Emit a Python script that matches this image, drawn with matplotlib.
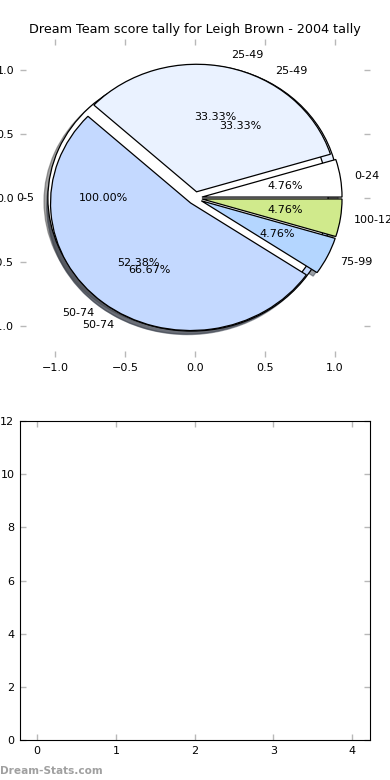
import matplotlib
matplotlib.use("Agg")
import matplotlib.pyplot as plt

# data
year_labels = ["0-24", "25-49", "50-74", "75-99", "100-124"]
year_counts = [1, 7, 11, 1, 1]
year_colors = ["#ffffff", "#eaf2ff", "#c4d9ff", "#b4d6ff", "#d0ea8c"]

sub_labels = ["25-49", "50-74"]
sub_counts = [1, 2]
sub_colors = ["#eaf2ff", "#c4d9ff"]

base_labels = ["0-5"]
base_counts = [1]
base_colors = ["#ffffff"]

pie_ticks = [-1.0, -0.5, 0.0, 0.5, 1.0]
bar_xticks = [0, 1, 2, 3, 4]
bar_yticks = [0, 2, 4, 6, 8, 10, 12]

title = "Dream Team score tally for Leigh Brown - 2004 tally"

plt.rcParams["font.family"] = "DejaVu Sans"
plt.rcParams["font.size"] = 8

fig, (ax, ax2) = plt.subplots(2, 1, figsize=(3.9, 7.8), dpi=100)
fig.subplots_adjust(left=0.051, right=0.949, top=0.9505, bottom=0.0513, hspace=0.2)

wp = {"edgecolor": "black", "linewidth": 0.9}
for labels, counts, colors in [(sub_labels, sub_counts, sub_colors),
                               (base_labels, base_counts, base_colors),
                               (year_labels, year_counts, year_colors)]:
    ax.pie(counts, labels=labels, colors=colors, autopct="%1.2f%%",
           explode=[0.05] * len(counts), shadow=True, startangle=0,
           wedgeprops=wp, frame=True, textprops={"fontsize": 8})

ax.set_aspect("auto")
ax.set_xlim(-1.25, 1.25)
ax.set_ylim(-1.25, 1.25)
ax.set_xticks(pie_ticks)
ax.set_yticks(pie_ticks)
for s in ax.spines.values():
    s.set_visible(False)
ax.set_title(title, fontsize=9.2, pad=4)

ax2.set_xlim(-0.22, 4.23)
ax2.set_ylim(0, 12)
ax2.set_xticks(bar_xticks)
ax2.set_yticks(bar_yticks)

for a in (ax, ax2):
    a.tick_params(direction="in", length=4, color="#b8b8b8", width=1,
                  top=True, right=True, labelsize=8, pad=4)

fig.text(0.0, 0.005, "Dream-Stats.com", fontsize=7.6, fontweight="bold",
         color="#a0a0a0", ha="left", va="bottom")

fig.savefig("out.png", dpi=100)
